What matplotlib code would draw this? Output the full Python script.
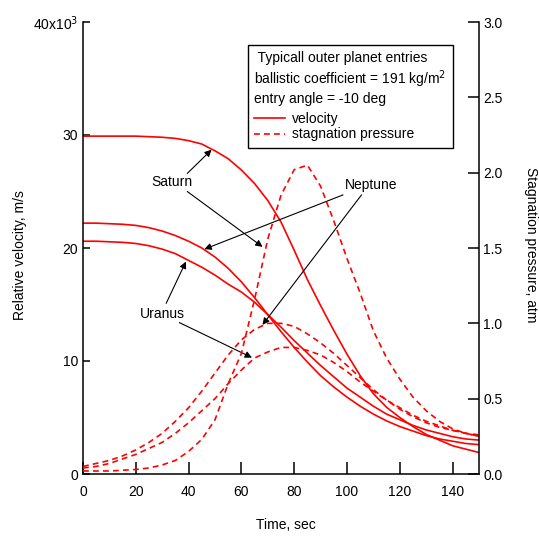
import numpy as np
import matplotlib
matplotlib.use("Agg")
import matplotlib.pyplot as plt
from matplotlib.lines import Line2D

plt.rcParams['font.family'] = ['Liberation Sans', 'DejaVu Sans']
plt.rcParams['font.size'] = 10

# time, sec
t = np.arange(0, 151, 5)

# relative velocity, 10^3 m/s
vel_saturn = [29.9, 29.9, 29.9, 29.9, 29.9, 29.85, 29.8, 29.7, 29.5, 29.2, 28.6, 27.9, 26.9, 25.7,
              24.2, 22.3, 19.8, 17.2, 14.9, 12.7, 10.6, 8.7, 7.1, 5.9, 5.0, 4.2, 3.5, 3.0, 2.5, 2.2, 1.9]
vel_neptune = [22.2, 22.2, 22.15, 22.1, 22.0, 21.8, 21.5, 21.1, 20.6, 20.0, 19.2, 18.2, 17.0, 15.6,
               14.1, 12.6, 11.2, 9.9, 8.7, 7.7, 6.8, 6.0, 5.3, 4.7, 4.2, 3.8, 3.4, 3.1, 2.9, 2.7, 2.6]
vel_uranus = [20.6, 20.6, 20.55, 20.5, 20.4, 20.2, 19.9, 19.5, 18.9, 18.3, 17.6, 16.8, 16.1, 15.2,
              14.1, 13.0, 11.8, 10.7, 9.6, 8.6, 7.6, 6.8, 6.0, 5.3, 4.8, 4.3, 3.9, 3.6, 3.3, 3.1, 3.0]

# stagnation pressure, atm
p_saturn = [0.02, 0.02, 0.02, 0.025, 0.03, 0.04, 0.06, 0.09, 0.15, 0.23, 0.36, 0.6, 0.8, 1.16,
            1.56, 1.85, 2.02, 2.05, 1.91, 1.68, 1.43, 1.2, 0.95, 0.77, 0.63, 0.51, 0.42, 0.35, 0.3, 0.27, 0.25]
p_neptune = [0.05, 0.07, 0.09, 0.12, 0.16, 0.21, 0.27, 0.35, 0.44, 0.55, 0.67, 0.79, 0.89, 0.96,
             1.0, 1.0, 0.98, 0.93, 0.87, 0.8, 0.72, 0.64, 0.56, 0.49, 0.43, 0.38, 0.34, 0.31, 0.29, 0.27, 0.26]
p_uranus = [0.04, 0.05, 0.07, 0.1, 0.13, 0.17, 0.21, 0.27, 0.34, 0.42, 0.5, 0.6, 0.69, 0.77,
            0.81, 0.84, 0.84, 0.82, 0.79, 0.74, 0.68, 0.61, 0.55, 0.49, 0.44, 0.39, 0.35, 0.32, 0.29, 0.27, 0.25]

x_ticks = [0, 20, 40, 60, 80, 100, 120, 140]
v_ticks = [0, 10, 20, 30, 40]
v_ticklabels = ['0', '10', '20', '30', '40x10$^3$']
p_ticks = [0.0, 0.5, 1.0, 1.5, 2.0, 2.5, 3.0]

red = '#ff0000'
lw = 1.2
dash = (3.5, 2.5)

fig = plt.figure(figsize=(5.39, 5.37), dpi=100)
ax = fig.add_axes([83 / 539, 63 / 537, 396 / 539, 452 / 537])
ax2 = ax.twinx()

ax.plot(t, vel_saturn, color=red, lw=lw)
ax.plot(t, vel_neptune, color=red, lw=lw)
ax.plot(t, vel_uranus, color=red, lw=lw)
for p in (p_saturn, p_neptune, p_uranus):
    ax2.plot(t, p, color=red, lw=lw, linestyle=(0, dash))

ax.set_xlim(0, 150)
ax.set_ylim(0, 40)
ax2.set_ylim(0, 3.0)
ax.set_xticks(x_ticks)
ax.set_yticks(v_ticks)
ax.set_yticklabels(v_ticklabels)
ax2.set_yticks(p_ticks)
ax2.set_yticklabels(['%.1f' % v for v in p_ticks])

for a in (ax, ax2):
    a.spines['top'].set_visible(False)
    for s in a.spines.values():
        s.set_linewidth(1.1)
ax.spines['right'].set_visible(False)
ax2.spines['left'].set_visible(False)
ax2.spines['bottom'].set_visible(False)

ax.tick_params(axis='x', direction='in', length=8.5, width=1.1, pad=8)
ax.tick_params(axis='y', direction='in', length=5, width=1.1, pad=3.5)
ax2.tick_params(axis='y', direction='in', length=8, width=1.1, pad=3)

fig.text(286 / 539, 1 - 525 / 537, 'Time, sec', ha='center', va='center')
fig.text(20 / 539, 1 - 255 / 537, 'Relative velocity, m/s', ha='center', va='center', rotation=90)
fig.text(531 / 539, 1 - 245 / 537, 'Stagnation pressure, atm', ha='center', va='center', rotation=-90)

# annotations (in velocity-axis coordinates)
arrow = dict(arrowstyle='-|>', color='k', lw=0.8, mutation_scale=10, shrinkA=0, shrinkB=0)
ax.text(33.5, 25.8, 'Saturn', ha='center', va='center')
ax.annotate('', xy=(48.7, 28.7), xytext=(39.5, 26.6), arrowprops=arrow)
ax.annotate('', xy=(68.0, 20.1), xytext=(39.5, 25.0), arrowprops=arrow)
ax.text(109, 25.6, 'Neptune', ha='center', va='center')
ax.annotate('', xy=(46.0, 19.9), xytext=(98.5, 24.7), arrowprops=arrow)
ax.annotate('', xy=(68.0, 13.2), xytext=(105.5, 24.7), arrowprops=arrow)
ax.text(30, 14.2, 'Uranus', ha='center', va='center')
ax.annotate('', xy=(39.0, 18.8), xytext=(31.5, 15.1), arrowprops=arrow)
ax.annotate('', xy=(64.0, 10.3), xytext=(36.5, 13.4), arrowprops=arrow)

handles = [Line2D([], [], color=red, lw=lw),
           Line2D([], [], color=red, lw=lw, linestyle=(0, dash))]
leg = ax2.legend(handles, ['velocity', 'stagnation pressure'],
                 title=' Typicall outer planet entries\nballistic coefficient = 191 kg/m$^2$\nentry angle = -10 deg',
                 alignment='left', loc='upper left', bbox_to_anchor=(248 / 539, 1 - 45 / 537),
                 bbox_transform=fig.transFigure, fancybox=False, framealpha=1, edgecolor='k',
                 handlelength=2.2, handletextpad=0.5, borderpad=0.45, labelspacing=0.12,
                 borderaxespad=0, fontsize=10, title_fontsize=10)
leg.get_frame().set_linewidth(1.0)
leg._legend_box.sep = 4

fig.savefig('out.png', dpi=100)
